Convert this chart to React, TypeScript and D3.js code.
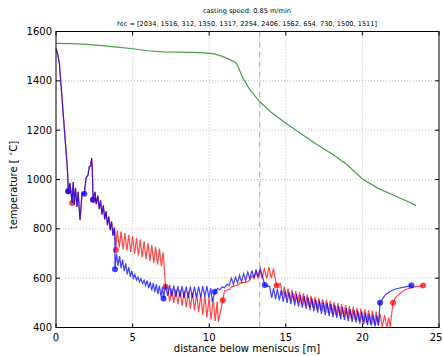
import React from "react";
import * as d3 from "d3";

type P = [number, number];

const titleLine1 = "casting speed: 0.85 m/min";
const titleLine2 = "htc = [2034, 1516, 312, 1350, 1317, 2254, 2406, 1562, 654, 730, 1500, 1511]";
const xTicks = [0, 5, 10, 15, 20, 25];
const yTicks = [400, 600, 800, 1000, 1200, 1400, 1600];
const markerLineX = 13.3;

const shellCurve: P[] = [
  [0, 1552], [1, 1551], [2, 1548], [3, 1543], [4, 1537], [5, 1530], [6, 1522], [7, 1517],
  [8, 1516], [9, 1515], [9.9, 1512], [10.4, 1508], [10.8, 1500], [11.2, 1490], [11.6, 1478],
  [11.8, 1470], [12.0, 1440], [12.2, 1411], [12.7, 1360], [13.3, 1315], [14.0, 1275],
  [15.0, 1228], [16, 1185], [17, 1143], [18.1, 1100], [19, 1060], [20, 1002], [21, 965],
  [22, 937], [23, 910], [23.5, 894],
];

const sharedStart: P[] = [
  [0, 1530], [0.11, 1508], [0.22, 1471], [0.7, 1079], [0.76, 1025], [0.8, 952], [0.91, 986],
  [1.05, 905], [1.12, 990], [1.19, 897], [1.27, 966], [1.37, 889], [1.44, 950], [1.57, 836],
  [1.7, 945], [1.85, 942], [1.96, 1006], [2.09, 1018], [2.17, 1051], [2.26, 1055], [2.33, 1087],
  [2.37, 1039], [2.42, 918], [2.55, 950], [2.63, 900], [2.73, 935], [2.82, 880], [2.91, 915],
  [3.0, 858], [3.09, 895], [3.18, 838], [3.27, 872], [3.36, 815], [3.45, 850], [3.54, 795],
  [3.63, 830], [3.72, 772], [3.81, 805],
];

const redTail: P[] = [
  [3.88, 760], [3.91, 714],
  [4.0, 795], [4.13, 725], [4.25, 790], [4.38, 718], [4.5, 783], [4.63, 712], [4.75, 776],
  [4.88, 705], [5.0, 770], [5.13, 698], [5.25, 763], [5.38, 692], [5.5, 756], [5.63, 685],
  [5.75, 749], [5.88, 678], [6.0, 742], [6.13, 670], [6.25, 734], [6.38, 662], [6.5, 727],
  [6.63, 655], [6.75, 720], [6.88, 648], [7.0, 705], [7.15, 565],
  [7.3, 560], [7.42, 505], [7.56, 558], [7.69, 500], [7.83, 555], [7.96, 494], [8.1, 552],
  [8.23, 488], [8.37, 549], [8.5, 482], [8.64, 546], [8.77, 476], [8.91, 543], [9.04, 469],
  [9.18, 539], [9.31, 462], [9.45, 534], [9.58, 452], [9.72, 528], [9.85, 440], [9.99, 520],
  [10.12, 432], [10.26, 515], [10.39, 426], [10.52, 505], [10.6, 423], [10.88, 510],
  [11.0, 548], [11.35, 556], [11.45, 565], [11.9, 572], [12.0, 580], [12.5, 585], [12.65, 592],
  [12.8, 610], [12.92, 598], [13.06, 625], [13.19, 600], [13.33, 632], [13.46, 598], [13.6, 642],
  [13.75, 598], [13.9, 645], [14.05, 600], [14.2, 640], [14.3, 600], [14.4, 570],
  [14.65, 578], [14.78, 528], [14.9, 565], [15.03, 520], [15.15, 558], [15.28, 513], [15.4, 553],
  [15.53, 507], [15.65, 548], [15.78, 500], [15.9, 543], [16.03, 495], [16.15, 538], [16.28, 489],
  [16.4, 533], [16.53, 484], [16.65, 528], [16.78, 479], [16.9, 524], [17.03, 474], [17.15, 519],
  [17.28, 469], [17.4, 515], [17.53, 464], [17.65, 511], [17.78, 459], [17.9, 507], [18.03, 455],
  [18.15, 503], [18.28, 451], [18.4, 499], [18.53, 447], [18.65, 495], [18.78, 443], [18.9, 491],
  [19.03, 439], [19.15, 487], [19.28, 435], [19.4, 484], [19.53, 431], [19.65, 480], [19.78, 427],
  [19.9, 477], [20.03, 423], [20.15, 474], [20.28, 419], [20.4, 471], [20.53, 415], [20.65, 468],
  [20.78, 411], [20.9, 465], [21.03, 407], [21.15, 455], [21.3, 402], [21.45, 450], [21.6, 400],
  [21.72, 440], [21.82, 402], [21.9, 450], [22.0, 500], [22.15, 520], [22.33, 531], [22.6, 546],
  [22.88, 555], [23.4, 565], [23.96, 570],
];

const blueTail: P[] = [
  [3.84, 760], [3.85, 636],
  [3.95, 700], [4.05, 650], [4.15, 690], [4.25, 640], [4.35, 675], [4.45, 628], [4.55, 660],
  [4.65, 615], [4.75, 645], [4.85, 605], [4.95, 630], [5.05, 600], [5.15, 615], [5.25, 592],
  [5.35, 605], [5.45, 585], [5.55, 598], [5.65, 578], [5.75, 592], [5.85, 570], [5.95, 590],
  [6.05, 560], [6.15, 585], [6.25, 550], [6.35, 580], [6.45, 543], [6.55, 575], [6.65, 535],
  [6.75, 570], [6.85, 525], [6.95, 565], [7.02, 518],
  [7.15, 575], [7.28, 528], [7.42, 572], [7.55, 525], [7.69, 570], [7.82, 523], [7.96, 568],
  [8.09, 522], [8.23, 568], [8.36, 520], [8.5, 566], [8.63, 520], [8.77, 566], [8.9, 520],
  [9.04, 566], [9.17, 522], [9.31, 566], [9.44, 522], [9.58, 568], [9.71, 525], [9.85, 568],
  [9.98, 520], [10.1, 560], [10.2, 505], [10.37, 545],
  [10.55, 558], [10.7, 553], [10.85, 565], [11.0, 560], [11.15, 575], [11.3, 570], [11.45, 600],
  [11.58, 575], [11.72, 605], [11.85, 580], [11.98, 612], [12.11, 585], [12.25, 618], [12.38, 590],
  [12.52, 625], [12.65, 597], [12.79, 632], [12.92, 600], [13.06, 636], [13.19, 605], [13.33, 640],
  [13.46, 610], [13.63, 572],
  [13.95, 566], [14.08, 520], [14.2, 560], [14.33, 515], [14.45, 556], [14.58, 510], [14.7, 552],
  [14.83, 505], [14.95, 548], [15.08, 500], [15.2, 544], [15.33, 495], [15.45, 540], [15.58, 490],
  [15.7, 535], [15.83, 485], [15.95, 531], [16.08, 480], [16.2, 527], [16.33, 475], [16.45, 522],
  [16.58, 470], [16.7, 518], [16.83, 465], [16.95, 513], [17.08, 460], [17.2, 509], [17.33, 455],
  [17.45, 504], [17.58, 450], [17.7, 500], [17.83, 446], [17.95, 495], [18.08, 442], [18.2, 491],
  [18.33, 438], [18.45, 487], [18.58, 434], [18.7, 483], [18.83, 430], [18.95, 479], [19.08, 426],
  [19.2, 475], [19.33, 423], [19.45, 471], [19.58, 420], [19.7, 467], [19.83, 416], [19.95, 463],
  [20.08, 413], [20.2, 459], [20.33, 410], [20.45, 455], [20.58, 407], [20.7, 451], [20.83, 404],
  [20.95, 448], [21.05, 408], [21.15, 500], [21.35, 520], [21.55, 535], [21.8, 546], [22.1, 555],
  [22.45, 560], [22.8, 565], [23.2, 570],
];

const redMarkers: P[] = [
  [0.8, 952], [1.05, 905], [2.42, 918], [3.91, 714], [7.15, 565], [10.88, 510], [14.4, 570],
  [22.0, 500], [23.96, 570],
];
const blueMarkers: P[] = [
  [0.8, 952], [1.85, 942], [2.42, 918], [3.85, 636], [7.02, 518], [10.37, 545], [13.63, 572],
  [21.15, 500], [23.2, 570],
];

const W = 443;
const H = 356;
const L = 56, R = 439, T = 31.5, B = 327.5;
const FONT = "DejaVu Sans, sans-serif";

export default function App() {
  const x = d3.scaleLinear().domain([0, 25]).range([L, R]);
  const y = d3.scaleLinear().domain([400, 1600]).range([B, T]);
  const line = d3.line<P>().x((d) => x(d[0])).y((d) => y(d[1]));
  const red = [...sharedStart, ...redTail];
  const blue = [...sharedStart, ...blueTail];

  return (
    <svg width={W} height={H} style={{ position: "absolute", left: 0, top: 0, background: "#fff" }}>
      <rect x={0} y={0} width={W} height={H} fill="#fff" />
      <text x={247} y={12.5} fontSize={6.6} fontFamily={FONT} textAnchor="middle" fill="#000">{titleLine1}</text>
      <text x={247} y={26} fontSize={6.6} fontFamily={FONT} textAnchor="middle" fill="#000">{titleLine2}</text>

      {/* grid */}
      {xTicks.slice(1, -1).map((t) => (
        <line key={"gx" + t} x1={x(t)} x2={x(t)} y1={T} y2={B} stroke="#b0b0b0" strokeWidth={0.8} strokeDasharray="1,2" />
      ))}
      {yTicks.slice(1, -1).map((t) => (
        <line key={"gy" + t} x1={L} x2={R} y1={y(t)} y2={y(t)} stroke="#b0b0b0" strokeWidth={0.8} strokeDasharray="1,2" />
      ))}
      <line x1={x(markerLineX)} x2={x(markerLineX)} y1={T} y2={B} stroke="#a8a8a8" strokeWidth={1} strokeDasharray="6,4" />

      <path d={line(shellCurve) || ""} fill="none" stroke="#45a045" strokeWidth={1.2} />
      <path d={line(red) || ""} fill="none" stroke="#ff0000" strokeOpacity={0.72} strokeWidth={1.2} />
      {redMarkers.map((d, i) => (
        <circle key={"rm" + i} cx={x(d[0])} cy={y(d[1])} r={3} fill="#ff0000" fillOpacity={0.72} />
      ))}
      <path d={line(blue) || ""} fill="none" stroke="#0000ff" strokeOpacity={0.75} strokeWidth={1.2} />
      {blueMarkers.map((d, i) => (
        <circle key={"bm" + i} cx={x(d[0])} cy={y(d[1])} r={3} fill="#0000ff" fillOpacity={0.75} />
      ))}

      {/* frame */}
      <rect x={L} y={T} width={R - L} height={B - T} fill="none" stroke="#000" strokeWidth={1} />
      {xTicks.map((t) => (
        <g key={"xt" + t}>
          <line x1={x(t)} x2={x(t)} y1={B} y2={B - 4} stroke="#000" />
          <line x1={x(t)} x2={x(t)} y1={T} y2={T + 4} stroke="#000" />
          <text x={Math.min(x(t), 436)} y={341} fontSize={10} fontFamily={FONT} textAnchor="middle" fill="#000">{t}</text>
        </g>
      ))}
      {yTicks.map((t) => (
        <g key={"yt" + t}>
          <line x1={L} x2={L + 4} y1={y(t)} y2={y(t)} stroke="#000" />
          <line x1={R} x2={R - 4} y1={y(t)} y2={y(t)} stroke="#000" />
          <text x={52} y={y(t) + 3.5} fontSize={10} fontFamily={FONT} textAnchor="end" fill="#000">{t}</text>
        </g>
      ))}
      <text x={247} y={352} fontSize={10} fontFamily={FONT} textAnchor="middle" fill="#000">distance below meniscus [m]</text>
      <text transform="translate(17,185) rotate(-90)" fontSize={10} fontFamily={FONT} textAnchor="middle" fill="#000">
        temperature [ <tspan fontSize={7} dy={-4}>∘</tspan><tspan dy={4}>C]</tspan>
      </text>
    </svg>
  );
}
